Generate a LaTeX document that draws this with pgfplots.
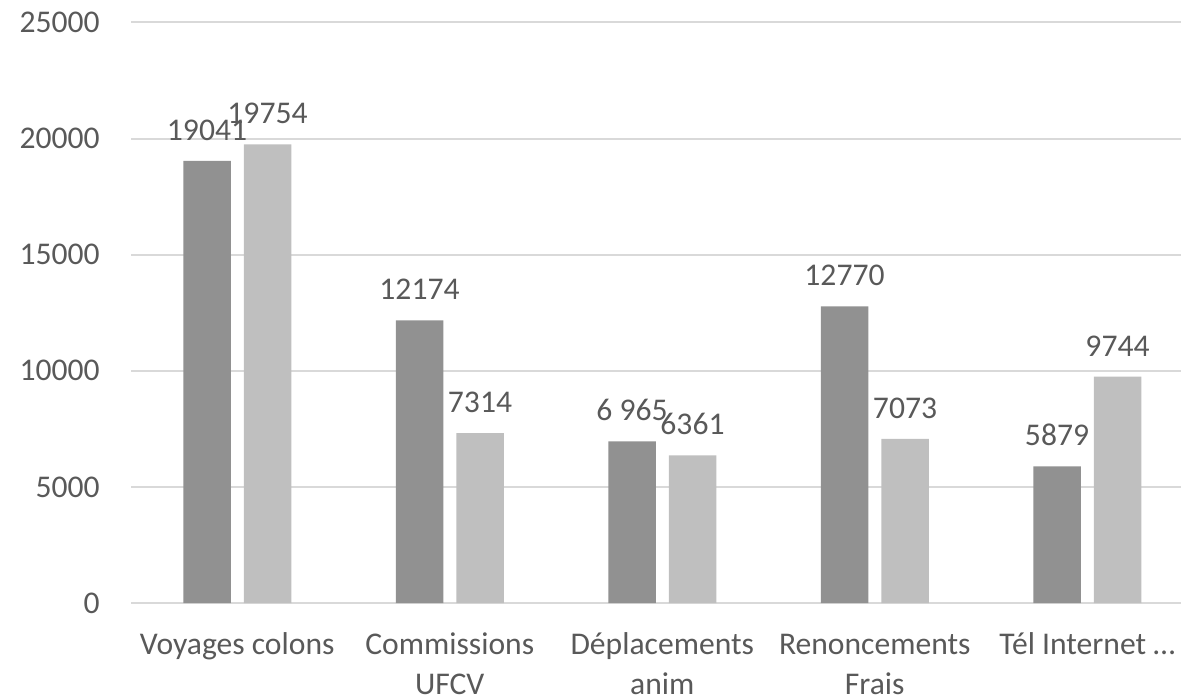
\documentclass[border=0pt]{standalone}
\usepackage{pgfplots}
\pgfplotsset{compat=1.18}
\usepackage{fontspec}
\setmainfont{Carlito}
\definecolor{txt}{HTML}{595959}
\definecolor{gridc}{HTML}{D9D9D9}
\definecolor{darkbar}{HTML}{919191}
\definecolor{lightbar}{HTML}{BFBFBF}
\begin{document}
\begin{tikzpicture}
\path[use as bounding box] (-65.5pt,-46.5pt) rectangle (525pt,301.5pt);
\begin{axis}[
  at={(0,0)}, anchor=south west,
  scale only axis, width=525pt, height=290.25pt,
  ybar=6.5pt, bar width=23.75pt,
  xmin=-0.5, xmax=4.4412, ymin=0, ymax=25000,
  ytick={0,5000,...,25000},
  scaled y ticks=false,
  xtick={0,1,2,3,4},
  xticklabels={{\strut Voyages colons}, {\strut Commissions\\UFCV}, {\strut Déplacements\\anim}, {\strut Renoncements\\Frais}, {\strut Tél Internet …}},
  axis line style={draw=none},
  major tick length=0pt,
  ymajorgrids, grid style={gridc, line width=1pt},
  clip=false,
  /pgf/number format/.cd, 1000 sep={}, assume math mode=true, /pgfplots/.cd,
  ticklabel style={font=\fontsize{15.8}{19}\selectfont, text=txt},
  yticklabel style={anchor=east, inner sep=0pt, xshift=-15.5pt},
  xticklabel style={font=\fontsize{15.8}{20}\selectfont, anchor=north, align=center, inner sep=0pt, yshift=-11.5pt},
  point meta=explicit symbolic,
  nodes near coords,
  every node near coord/.append style={font=\fontsize{15.8}{19}\selectfont, text=txt, anchor=south, inner sep=0pt, yshift=10pt},
]
\addplot[fill=darkbar, draw=none] coordinates {
  (0,19041) [19041]
  (1,12174) [12174]
  (2,6965) [6 965]
  (3,12770) [12770]
  (4,5879) [5879]
};
\addplot[fill=lightbar, draw=none] coordinates {
  (0,19754) [19754]
  (1,7314) [7314]
  (2,6361) [6361]
  (3,7073) [7073]
  (4,9744) [9744]
};
\end{axis}
\end{tikzpicture}
\end{document}
